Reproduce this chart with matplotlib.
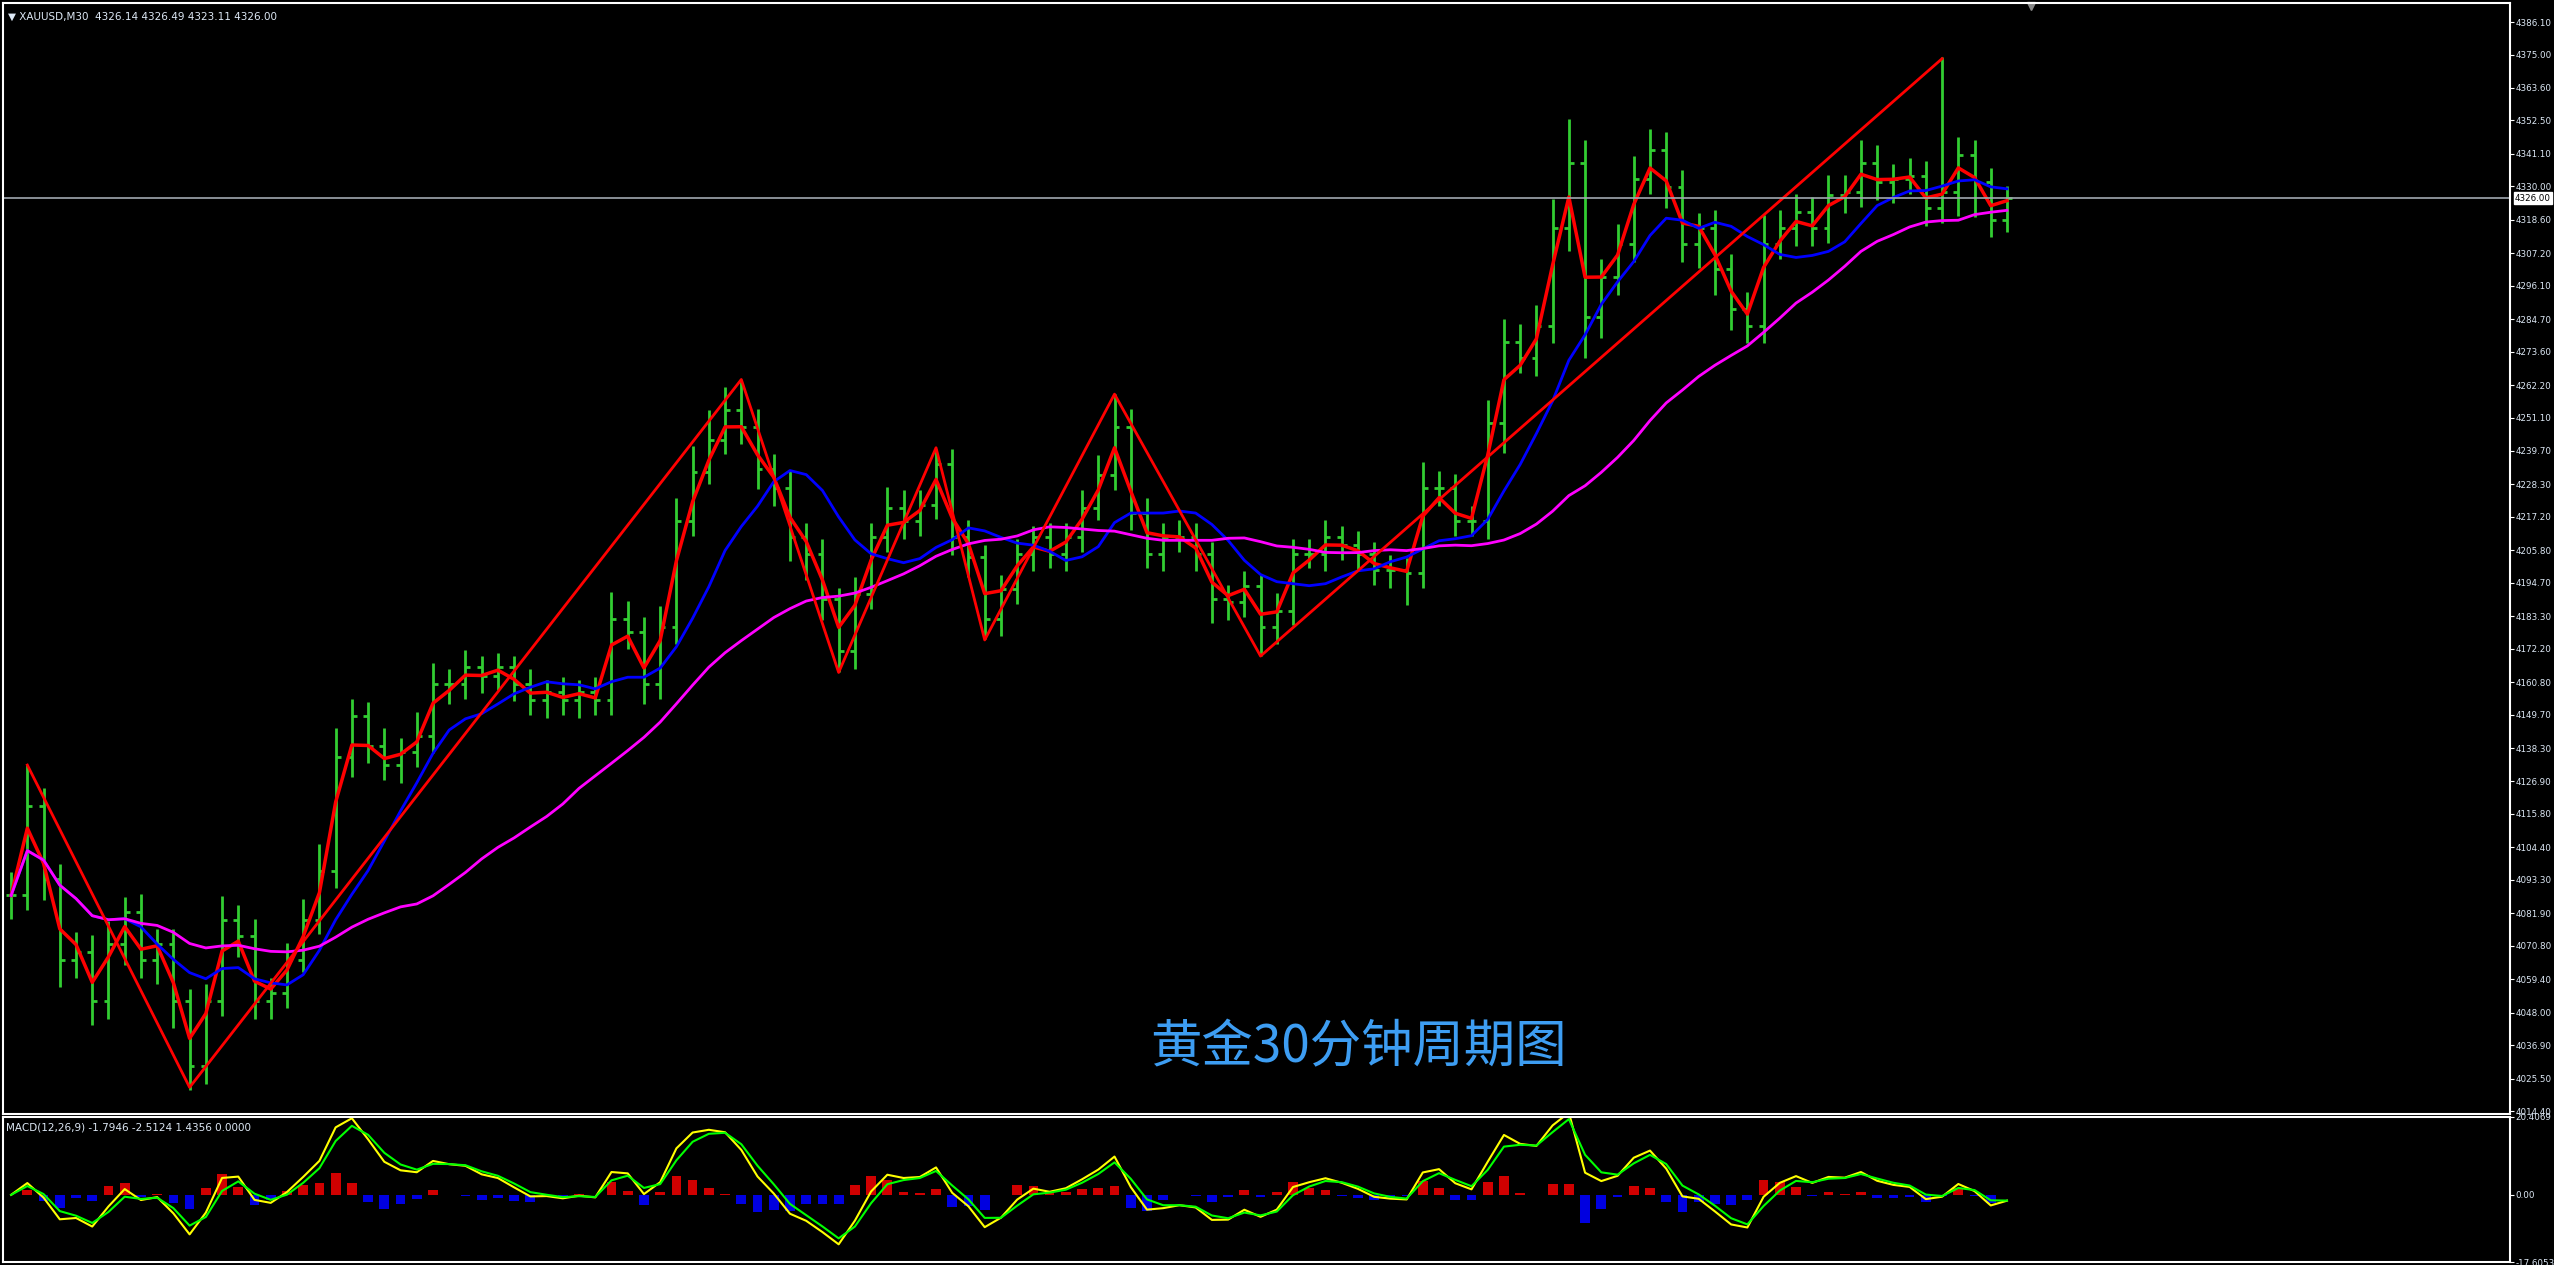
import matplotlib
matplotlib.use("Agg")
import matplotlib.pyplot as plt
import numpy as np
import pandas as pd

closes = [4088.0,4118.6,4093.6,4065.8,4068.6,4051.9,4071.4,4082.5,4065.8,4071.4,
          4051.9,4029.7,4051.9,4079.7,4074.1,4051.9,4054.7,4065.8,4079.7,4096.4,
          4135.3,4149.1,4139.1,4132.5,4136.9,4142.5,4160.2,4160.2,4165.8,4163.0,
          4165.8,4160.2,4154.7,4157.5,4154.7,4157.5,4154.7,4182.5,4178.0,4160.2,
          4179.7,4215.8,4232.5,4243.6,4253.6,4248.0,4233.6,4226.9,4210.2,4204.7,
          4189.1,4171.4,4190.8,4210.2,4220.3,4215.8,4221.4,4235.3,4210.2,4203.6,
          4182.5,4192.5,4204.7,4210.2,4204.7,4210.2,4220.3,4231.4,4248.0,4218.6,
          4204.7,4210.2,4210.2,4204.7,4189.1,4188.0,4193.6,4179.7,4185.2,4204.7,
          4204.7,4210.2,4207.5,4204.7,4199.1,4199.1,4198.0,4226.9,4226.9,4215.8,
          4215.8,4249.1,4276.9,4271.4,4282.5,4315.8,4338.0,4285.3,4299.1,4310.3,
          4332.5,4342.5,4329.7,4310.3,4315.8,4301.9,4288.0,4282.5,4310.3,4315.8,
          4321.4,4315.8,4326.9,4328.0,4338.0,4331.4,4332.5,4333.6,4322.5,4328.0,
          4340.8,4331.4,4318.6,4326.0]
wick_up = [8,14,6,5,7,6,8,5,6,5, 5,4,6,8,5,6,5,6,7,9, 10,6,5,6,5,8,7,5,6,4,
           5,4,5,4,5,4,5,9,6,5, 7,8,9,10,8,10,6,5,6,5, 5,4,6,5,7,6,5,5,5,6,
           4,5,5,4,5,5,6,7,11,6, 5,5,6,5,4,5,5,4,6,5, 5,6,4,5,4,5,4,9,6,5,
           5,8,8,6,7,10,15,8,6,7, 8,7,6,6,5,6,5,6,10,6, 6,5,7,6,8,6,5,6,5,46,
           6,5,5,4]
wick_dn = [8,5,7,9,6,8,6,7,6,8, 9,8,6,5,7,6,6,5,4,5, 6,7,6,5,6,5,6,7,5,6,
           5,6,5,6,5,6,5,5,6,7, 5,6,5,4,5,6,7,6,8,9, 7,7,6,5,5,6,5,5,6,7,
           7,6,5,6,5,6,5,4,5,6, 5,6,5,6,8,6,5,10,6,5, 5,6,5,6,5,6,11,5,6,5,
           5,6,10,5,6,6,8,14,7,6, 6,5,7,6,8,9,7,6,6,5, 6,6,5,6,5,6,7,5,6,5,
           8,12,6,4]
zz_idx = [1, 11, 45, 51, 57, 60, 68, 77, 119]
zz_val = [4132.5, 4022.5, 4264.1, 4164.1, 4240.8, 4175.2, 4259.1, 4169.7, 4373.6]
price_ticks = [4386.10,4375.00,4363.60,4352.50,4341.10,4330.00,4318.60,4307.20,4296.10,
               4284.70,4273.60,4262.20,4251.10,4239.70,4228.30,4217.20,4205.80,4194.70,
               4183.30,4172.20,4160.80,4149.70,4138.30,4126.90,4115.80,4104.40,4093.30,
               4081.90,4070.80,4059.40,4048.00,4036.90,4025.50,4014.40]
last_price = 4326.00
header = "XAUUSD,M30  4326.14 4326.49 4323.11 4326.00"
macd_label = "MACD(12,26,9) -1.7946 -2.5124 1.4356 0.0000"
title_cn = "黄金30分钟周期图"

c = pd.Series(closes)
o = c.shift(1).fillna(c.iloc[0])
hi = np.maximum(o, c) + np.array(wick_up)
lo = np.minimum(o, c) - np.array(wick_dn)
x = np.arange(len(c))

red_ma = c.ewm(span=2).mean()
blue_ma = c.rolling(8, min_periods=1).mean()
mag_ma = c.rolling(24, min_periods=1).mean()
ema_f = c.ewm(span=2.4).mean()
ema_s = c.ewm(span=5.2).mean()
macd = (ema_f - ema_s) * 0.9
sig = macd.ewm(span=2.0).mean()
hist = (macd - sig) * 1.6

W, H = 2554, 1265
fig = plt.figure(figsize=(W/100, H/100), dpi=100, facecolor='black')
L, R = 3/W, 2510/W
ax = fig.add_axes([L, 1-1114/H, R-L, (1114-3)/H], facecolor='black')
axm = fig.add_axes([L, 1-1262/H, R-L, (1262-1117)/H], facecolor='black')

tc = '#dde8f5'
for a in (ax, axm):
    for s in a.spines.values():
        s.set_color('white'); s.set_linewidth(1.5)
    a.yaxis.tick_right()
    a.tick_params(axis='y', colors='white', labelcolor=tc, labelsize=6.3, length=3, direction='out', pad=1)
    a.set_xticks([])
    a.set_xlim(-0.5, 154)

ax.vlines(x, lo, hi, color='#32cd32', lw=2)
ax.hlines(o, x-0.3, x, color='#32cd32', lw=2)
ax.hlines(c, x, x+0.3, color='#32cd32', lw=2)
ax.plot(x, red_ma, color='red', lw=2.5)
ax.plot(x, blue_ma, color='#0000ff', lw=2)
ax.plot(x, mag_ma, color='#ff00ff', lw=2)
ax.plot(zz_idx, zz_val, color='red', lw=2)
ax.axhline(last_price, color='#a0a8b0', lw=1.2)
ax.set_ylim(4013.4, 4392.6)
ax.set_yticks(price_ticks)
ax.set_yticklabels([f"{t:.2f}" for t in price_ticks])
ax.text(1.002, last_price, f"{last_price:.2f}", transform=ax.get_yaxis_transform(),
        va='center', ha='left', fontsize=6.3, color='black',
        bbox=dict(facecolor='white', edgecolor='white', pad=1))
ax.text(0.002, 0.992, "▼ " + header, transform=ax.transAxes, va='top', ha='left',
        fontsize=7.5, color=tc)
ax.text(0.4575, 0.06, title_cn, transform=ax.transAxes, va='center', ha='left',
        fontsize=37, color='#3d9df2', family=['Noto Sans CJK SC', 'DejaVu Sans'])
ax.plot([124.5], [4391.5], marker='v', color='#888888', ms=6, clip_on=False)

colors = ['#d00000' if v >= 0 else '#0000e0' for v in hist]
axm.bar(x, hist, width=0.6, color=colors)
axm.plot(x, macd, color='yellow', lw=1.5)
axm.plot(x, sig, color='#00ff00', lw=1.5)
axm.set_ylim(-17.6053, 20.4069)
axm.set_yticks([20.4069, 0.0, -17.6053])
axm.set_yticklabels(['20.4069', '0.00', '-17.6053'])
axm.text(0.001, 0.96, macd_label, transform=axm.transAxes, va='top', ha='left',
         fontsize=7.5, color=tc)

fig.savefig('out.png', dpi=100, facecolor='black')
